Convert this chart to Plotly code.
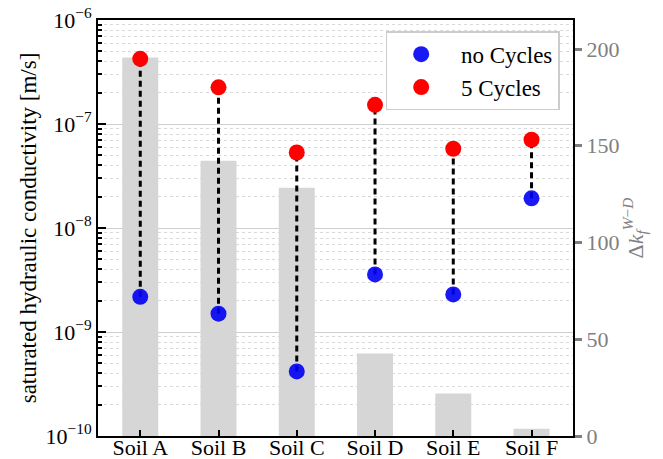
import plotly.graph_objects as go

soils = ["Soil A", "Soil B", "Soil C", "Soil D", "Soil E", "Soil F"]
k_no_cycles = [2.18e-9, 1.50e-9, 4.18e-10, 3.58e-9, 2.30e-9, 1.93e-8]
k_5_cycles = [4.23e-7, 2.25e-7, 5.32e-8, 1.53e-7, 5.78e-8, 7.06e-8]
delta_kf = [195.6, 142.3, 128.3, 42.6, 22.0, 3.7]
log_tick_vals = [1e-10, 1e-9, 1e-8, 1e-7, 1e-6]
log_tick_text = ["10<sup>−10</sup>", "10<sup>−9</sup>", "10<sup>−8</sup>",
                 "10<sup>−7</sup>", "10<sup>−6</sup>"]
decades = [-10, -9, -8, -7]
minor_mantissas = [2, 3, 4, 5, 6, 7, 8, 9]
right_ticks = [0, 50, 100, 150, 200]

minor_vals = [m * 10.0 ** d for d in decades for m in minor_mantissas]

FONT = "Liberation Serif, Times New Roman, serif"
GRAY = "#808080"
NB = "\u00a0"

fig = go.Figure()

fig.add_trace(go.Bar(
    x=soils, y=delta_kf, yaxis="y", marker=dict(color="#d6d6d6", line=dict(width=0)),
    width=0.46, showlegend=False, hoverinfo="skip"))

for s, lo, hi in zip(soils, k_no_cycles, k_5_cycles):
    fig.add_trace(go.Scatter(
        x=[s, s], y=[lo, hi], yaxis="y2", mode="lines",
        line=dict(color="black", width=3, dash="6px,4px"),
        showlegend=False, hoverinfo="skip"))

fig.add_trace(go.Scatter(
    x=soils, y=k_no_cycles, yaxis="y2", mode="markers", name=NB + "no Cycles",
    marker=dict(color="#0000f5", size=16, opacity=0.9, line=dict(width=0))))
fig.add_trace(go.Scatter(
    x=soils, y=k_5_cycles, yaxis="y2", mode="markers", name=NB + "5 Cycles",
    marker=dict(color="red", size=16, line=dict(width=0))))

fig.update_layout(
    width=663, height=459,
    margin=dict(l=98, r=90, t=20, b=23),
    paper_bgcolor="white", plot_bgcolor="white",
    font=dict(family=FONT, size=22, color="black"),
    showlegend=True,
    legend=dict(
        x=0.972, y=0.973, xanchor="right", yanchor="top",
        bgcolor="rgba(255,255,255,0.9)", bordercolor="#cccccc", borderwidth=1.5,
        font=dict(family=FONT, size=23, color="black"),
        itemwidth=58, tracegroupgap=0),
    xaxis=dict(
        type="category", range=[-0.54, 5.53], automargin=False,
        showline=True, linecolor="black", linewidth=2, mirror=True,
        ticks="inside", ticklen=6, tickwidth=2, tickcolor="black",
        ticklabelstandoff=-9,
        showgrid=False, tickfont=dict(family=FONT, size=22, color="black")),
    yaxis=dict(
        side="right", range=[0, 215], tickvals=right_ticks, automargin=False,
        showline=True, linecolor="black", linewidth=2,
        ticks="outside", ticklen=7, tickwidth=2.5, tickcolor=GRAY,
        tickfont=dict(family=FONT, size=22, color=GRAY),
        showgrid=False, zeroline=False,
        title=dict(text="Δ<i>k</i><sub><i>f</i></sub><sup><i>W</i>−<i>D</i></sup>",
                   font=dict(family=FONT, size=22, color=GRAY), standoff=8)),
    yaxis2=dict(
        type="log", overlaying="y", side="left", range=[-10, -6], automargin=False,
        tickmode="array", tickvals=log_tick_vals, ticktext=log_tick_text,
        showline=True, linecolor="black", linewidth=2,
        ticks="inside", ticklen=8, tickwidth=2, tickcolor="black",
        tickfont=dict(family=FONT, size=22, color="black"),
        showgrid=True, gridcolor="#cfcfcf", gridwidth=1,
        minor=dict(tickmode="array", tickvals=minor_vals,
                   ticks="inside", ticklen=4, tickwidth=1.5, tickcolor="black",
                   showgrid=True, gridcolor="#d9d9d9", griddash="dot", gridwidth=1),
        zeroline=False,
        title=dict(text="saturated hydraulic conductivity [m/s]",
                   font=dict(family=FONT, size=23, color="black"), standoff=2)),
)

fig.write_html("out.html")
